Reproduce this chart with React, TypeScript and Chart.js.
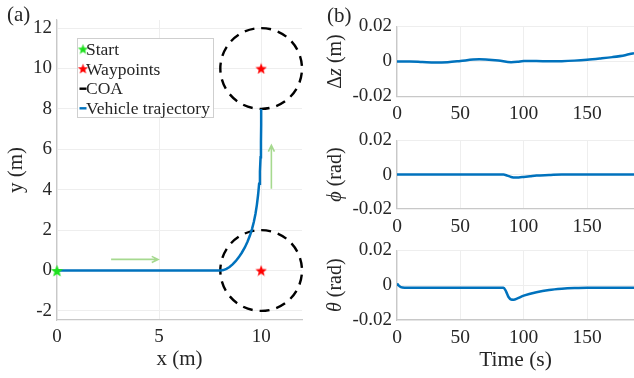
import React, { useEffect, useRef } from 'react';
import { Chart, registerables } from 'chart.js';

Chart.register(...registerables);

const SERIF = '"Liberation Serif", "Times New Roman", serif';
const BLUE = '#0072BD';
const AXIS = '#c8c8c8';
const GRID = '#eeeeee';
const TEXT = '#262626';

// ---------- (a) trajectory data ----------
const trajX = [0, 2, 4, 6, 8.0, 8.15, 8.3, 8.45, 8.6, 8.75, 8.9, 9.05, 9.2, 9.33, 9.45, 9.55, 9.64, 9.72, 9.79, 9.85, 9.9, 9.94, 9.97, 9.99, 10, 10];
const trajY = [0, 0, 0, 0, 0, 0.02, 0.08, 0.17, 0.3, 0.46, 0.65, 0.88, 1.14, 1.42, 1.73, 2.05, 2.4, 2.8, 3.25, 3.75, 4.3, 4.9, 5.6, 6.4, 7.2, 8];
const startX = [0];
const startY = [0];
const waypointX = [10, 10];
const waypointY = [0, 10];
const coaRadius = 2;
const arrowFromX = [2.65, 10.5];
const arrowFromY = [0.55, 4.05];
const arrowToX = [4.95, 10.5];
const arrowToY = [0.55, 6.2];
const xTicksA = [0, 5, 10];
const yTicksA = [-2, 0, 2, 4, 6, 8, 10, 12];
const legendLabels = ['Start', 'Waypoints', 'COA', 'Vehicle trajectory'];

// ---------- (b) time series ----------
const tDz = [0, 10, 20, 30, 40, 50, 60, 65, 70, 80, 90, 95, 100, 110, 120, 130, 140, 150, 160, 170, 180, 187];
const dz = [0, 0, -0.0003, -0.0006, -0.0004, 0.0003, 0.0011, 0.0013, 0.0012, 0.0006, -0.0004, -0.0002, 0.0003, 0.0003, 0.0001, 0.0002, 0.0005, 0.001, 0.0017, 0.0025, 0.0036, 0.0048];
const tPhi = [0, 84, 87, 90, 93, 96, 100, 105, 110, 120, 130, 187];
const phi = [0, 0, -0.0006, -0.0014, -0.0018, -0.0017, -0.0014, -0.001, -0.0006, -0.0003, 0, 0];
const tTheta = [0, 1, 3, 6, 84, 86, 88, 90, 92, 95, 100, 110, 120, 130, 140, 150, 187];
const theta = [0.001, 0.0, -0.0011, -0.0014, -0.0014, -0.0035, -0.0068, -0.0082, -0.0083, -0.0076, -0.006, -0.004, -0.0027, -0.002, -0.0016, -0.0014, -0.0014];
const xTicksB = [0, 50, 100, 150];
const yTicksB = [-0.02, 0, 0.02];
const yTickLabelsB = ['-0.02', '0', '0.02'];

function makeStar(color: string, size: number) {
  const c = document.createElement('canvas');
  c.width = size;
  c.height = size;
  const g = c.getContext('2d')!;
  const cx = size / 2, cy = size / 2 + size * 0.05, R = size / 2, r = R * 0.42;
  g.beginPath();
  for (let i = 0; i < 10; i++) {
    const a = -Math.PI / 2 + (i * Math.PI) / 5;
    const rad = i % 2 ? r : R;
    g.lineTo(cx + rad * Math.cos(a), cy + rad * Math.sin(a));
  }
  g.closePath();
  g.fillStyle = color;
  g.fill();
  return c;
}

const zip = (xs: number[], ys: number[]) => xs.map((x, i) => ({ x, y: ys[i] }));

function makeLeft() {
  const greenStar = makeStar('#1de01d', 13);
  const redStar = makeStar('#ff0000', 12);
  const greenSmall = makeStar('#1de01d', 11);
  const redSmall = makeStar('#ff0000', 11);

  const coaPlugin = {
    id: 'coa',
    beforeDatasetsDraw(chart: any) {
      const { ctx, scales } = chart;
      const xs = scales.x, ys = scales.y;
      ctx.save();
      ctx.strokeStyle = '#000';
      ctx.lineWidth = 2.4;
      ctx.setLineDash([10, 7]);
      waypointX.forEach((wx, i) => {
        const cx = xs.getPixelForValue(wx);
        const cy = ys.getPixelForValue(waypointY[i]);
        const rx = Math.abs(xs.getPixelForValue(wx + coaRadius) - cx);
        const ry = Math.abs(ys.getPixelForValue(waypointY[i] + coaRadius) - cy);
        ctx.beginPath();
        ctx.ellipse(cx, cy, rx, ry, 0, -Math.PI / 2, Math.PI * 1.5);
        ctx.stroke();
      });
      ctx.setLineDash([]);
      // arrows
      ctx.strokeStyle = '#a6d98f';
      ctx.lineWidth = 1.6;
      arrowFromX.forEach((fx, i) => {
        const x1 = xs.getPixelForValue(fx), y1 = ys.getPixelForValue(arrowFromY[i]);
        const x2 = xs.getPixelForValue(arrowToX[i]), y2 = ys.getPixelForValue(arrowToY[i]);
        const ang = Math.atan2(y2 - y1, x2 - x1);
        const hl = 7;
        ctx.beginPath();
        ctx.moveTo(x1, y1);
        ctx.lineTo(x2, y2);
        ctx.moveTo(x2 - hl * Math.cos(ang - 0.45), y2 - hl * Math.sin(ang - 0.45));
        ctx.lineTo(x2, y2);
        ctx.lineTo(x2 - hl * Math.cos(ang + 0.45), y2 - hl * Math.sin(ang + 0.45));
        ctx.stroke();
      });
      ctx.restore();
    },
  };

  const legendPlugin = {
    id: 'boxLegend',
    afterDraw(chart: any) {
      const { ctx, chartArea } = chart;
      const x0 = chartArea.left + 20.5, y0 = chartArea.top + 18.5, w = 136, h = 79;
      ctx.save();
      ctx.fillStyle = '#fff';
      ctx.fillRect(x0, y0, w, h);
      ctx.strokeStyle = '#cfcfcf';
      ctx.lineWidth = 1;
      ctx.strokeRect(x0, y0, w, h);
      ctx.font = `17.5px ${SERIF}`;
      ctx.fillStyle = TEXT;
      ctx.textBaseline = 'middle';
      const rowH = 19.6;
      legendLabels.forEach((lab, i) => {
        const cy = y0 + 11 + i * rowH;
        const mx = x0 + 1;
        if (i === 0) ctx.drawImage(greenSmall, mx - 1, cy - 6);
        if (i === 1) ctx.drawImage(redSmall, mx - 1, cy - 6);
        if (i === 2 || i === 3) {
          ctx.strokeStyle = i === 2 ? '#000' : BLUE;
          ctx.lineWidth = 2.4;
          ctx.beginPath();
          ctx.moveTo(mx + 1, cy);
          ctx.lineTo(mx + 8, cy);
          ctx.stroke();
        }
        ctx.fillText(lab, x0 + 8.5, cy + 1);
      });
      ctx.restore();
    },
  };

  return {
    type: 'scatter',
    data: {
      datasets: [
        {
          label: 'Vehicle trajectory',
          data: zip(trajX, trajY),
          showLine: true,
          borderColor: BLUE,
          borderWidth: 2.5,
          pointRadius: 0,
          order: 2,
        },
        {
          label: 'Start',
          data: zip(startX, startY),
          pointStyle: greenStar,
          pointRadius: 6,
          clip: false,
          order: 1,
        },
        {
          label: 'Waypoints',
          data: zip(waypointX, waypointY),
          pointStyle: redStar,
          pointRadius: 6,
          clip: false,
          order: 1,
        },
      ],
    },
    options: {
      animation: false,
      responsive: false,
      devicePixelRatio: 1,
      layout: { padding: { top: 20, right: 18, left: 0, bottom: 0 } },
      plugins: { legend: { display: false }, tooltip: { enabled: false } },
      scales: {
        x: {
          type: 'linear',
          min: 0,
          max: 12,
          afterBuildTicks: (s: any) => { s.ticks = xTicksA.map((v) => ({ value: v })); },
          afterFit: (s: any) => { s.height = 58; },
          grid: { color: GRID, drawTicks: false },
          border: { color: AXIS, width: 1.2 },
          ticks: { color: TEXT, font: { family: SERIF, size: 19 }, padding: 6, maxRotation: 0 },
          title: { display: true, text: 'x (m)', color: TEXT, font: { family: SERIF, size: 21 }, padding: { top: 0, bottom: 6 } },
        },
        y: {
          type: 'linear',
          min: -2.45,
          max: 12.4,
          afterBuildTicks: (s: any) => { s.ticks = yTicksA.map((v) => ({ value: v })); },
          afterFit: (s: any) => { s.width = 57; },
          grid: { color: GRID, drawTicks: false },
          border: { color: AXIS, width: 1.2 },
          ticks: { color: TEXT, font: { family: SERIF, size: 19 }, padding: 5, callback: (v: number) => String(v) },
          title: { display: true, text: 'y (m)', color: TEXT, font: { family: SERIF, size: 21 }, padding: { top: 4, bottom: 0 } },
        },
      },
    },
    plugins: [coaPlugin, legendPlugin],
  };
}

type Part = { t: string; italic?: boolean };

function makeRight(ts: number[], vs: number[], titleParts: Part[], padTop: number, xAxisH: number, showTime: boolean) {
  const yTitlePlugin = {
    id: 'yTitle',
    afterDraw(chart: any) {
      const { ctx, chartArea } = chart;
      ctx.save();
      const cx = 16;
      const cy = (chartArea.top + chartArea.bottom) / 2;
      ctx.translate(cx, cy);
      ctx.rotate(-Math.PI / 2);
      ctx.fillStyle = TEXT;
      ctx.textBaseline = 'middle';
      const fonts = titleParts.map((p) => `${p.italic ? 'italic ' : ''}20px ${SERIF}`);
      let total = 0;
      titleParts.forEach((p, i) => { ctx.font = fonts[i]; total += ctx.measureText(p.t).width; });
      let x = -total / 2;
      titleParts.forEach((p, i) => {
        ctx.font = fonts[i];
        ctx.fillText(p.t, x, 0);
        x += ctx.measureText(p.t).width;
      });
      ctx.restore();
    },
  };
  return {
    type: 'line',
    data: {
      datasets: [
        {
          label: titleParts.map((p) => p.t).join(''),
          data: zip(ts, vs),
          borderColor: BLUE,
          borderWidth: 2.5,
          pointRadius: 0,
          cubicInterpolationMode: 'monotone',
        },
      ],
    },
    options: {
      animation: false,
      responsive: false,
      devicePixelRatio: 1,
      layout: { padding: { top: padTop, right: 0, left: 0, bottom: 0 } },
      plugins: { legend: { display: false }, tooltip: { enabled: false } },
      scales: {
        x: {
          type: 'linear',
          min: 0,
          max: 187,
          afterBuildTicks: (s: any) => { s.ticks = xTicksB.map((v) => ({ value: v })); },
          afterFit: (s: any) => { s.height = xAxisH; },
          grid: { color: GRID, drawTicks: false },
          border: { color: AXIS, width: 1.2 },
          ticks: { color: TEXT, font: { family: SERIF, size: 19.5 }, padding: 6, maxRotation: 0 },
          title: { display: showTime, text: 'Time (s)', color: TEXT, font: { family: SERIF, size: 21.5 }, padding: { top: 0, bottom: 5 } },
        },
        y: {
          type: 'linear',
          min: -0.02,
          max: 0.02,
          afterBuildTicks: (s: any) => { s.ticks = yTicksB.map((v) => ({ value: v })); },
          afterFit: (s: any) => { s.width = 77; },
          grid: { color: GRID, drawTicks: false },
          border: { color: AXIS, width: 1.2 },
          ticks: {
            color: TEXT,
            font: { family: SERIF, size: 19 },
            padding: 5,
            callback: (v: number) => yTickLabelsB[yTicksB.findIndex((t) => Math.abs(t - v) < 1e-9)] ?? String(v),
          },
        },
      },
    },
    plugins: [yTitlePlugin],
  };
}

function ChartBox({ left, top, width, height, make }: { left: number; top: number; width: number; height: number; make: () => any }) {
  const ref = useRef<HTMLCanvasElement | null>(null);
  useEffect(() => {
    const chart = new Chart(ref.current as HTMLCanvasElement, make());
    return () => chart.destroy();
  }, []);
  return (
    <canvas
      ref={ref}
      width={width}
      height={height}
      style={{ position: 'absolute', left, top, width, height, display: 'block' }}
    />
  );
}

export default function App() {
  return (
    <div
      style={{
        position: 'fixed',
        left: 0,
        top: 0,
        width: 634,
        height: 378,
        background: '#fff',
        overflow: 'hidden',
        fontFamily: SERIF,
        color: TEXT,
      }}
    >
      <ChartBox left={0} top={0} width={320} height={378} make={makeLeft} />
      <ChartBox
        left={320}
        top={0}
        width={314}
        height={124}
        make={() => makeRight(tDz, dz, [{ t: 'Δ' }, { t: 'z', italic: true }, { t: ' (m)' }], 26.5, 27.5, false)}
      />
      <ChartBox
        left={320}
        top={124}
        width={314}
        height={110}
        make={() => makeRight(tPhi, phi, [{ t: 'ϕ', italic: true }, { t: ' (rad)' }], 15.3, 25.3, false)}
      />
      <ChartBox
        left={320}
        top={234}
        width={314}
        height={144}
        make={() => makeRight(tTheta, theta, [{ t: 'θ', italic: true }, { t: ' (rad)' }], 15.5, 58, true)}
      />
      <div style={{ position: 'absolute', left: 7, top: 2, fontSize: 21, lineHeight: '24px' }}>(a)</div>
      <div style={{ position: 'absolute', left: 327, top: 3, fontSize: 21, lineHeight: '24px' }}>(b)</div>
    </div>
  );
}
